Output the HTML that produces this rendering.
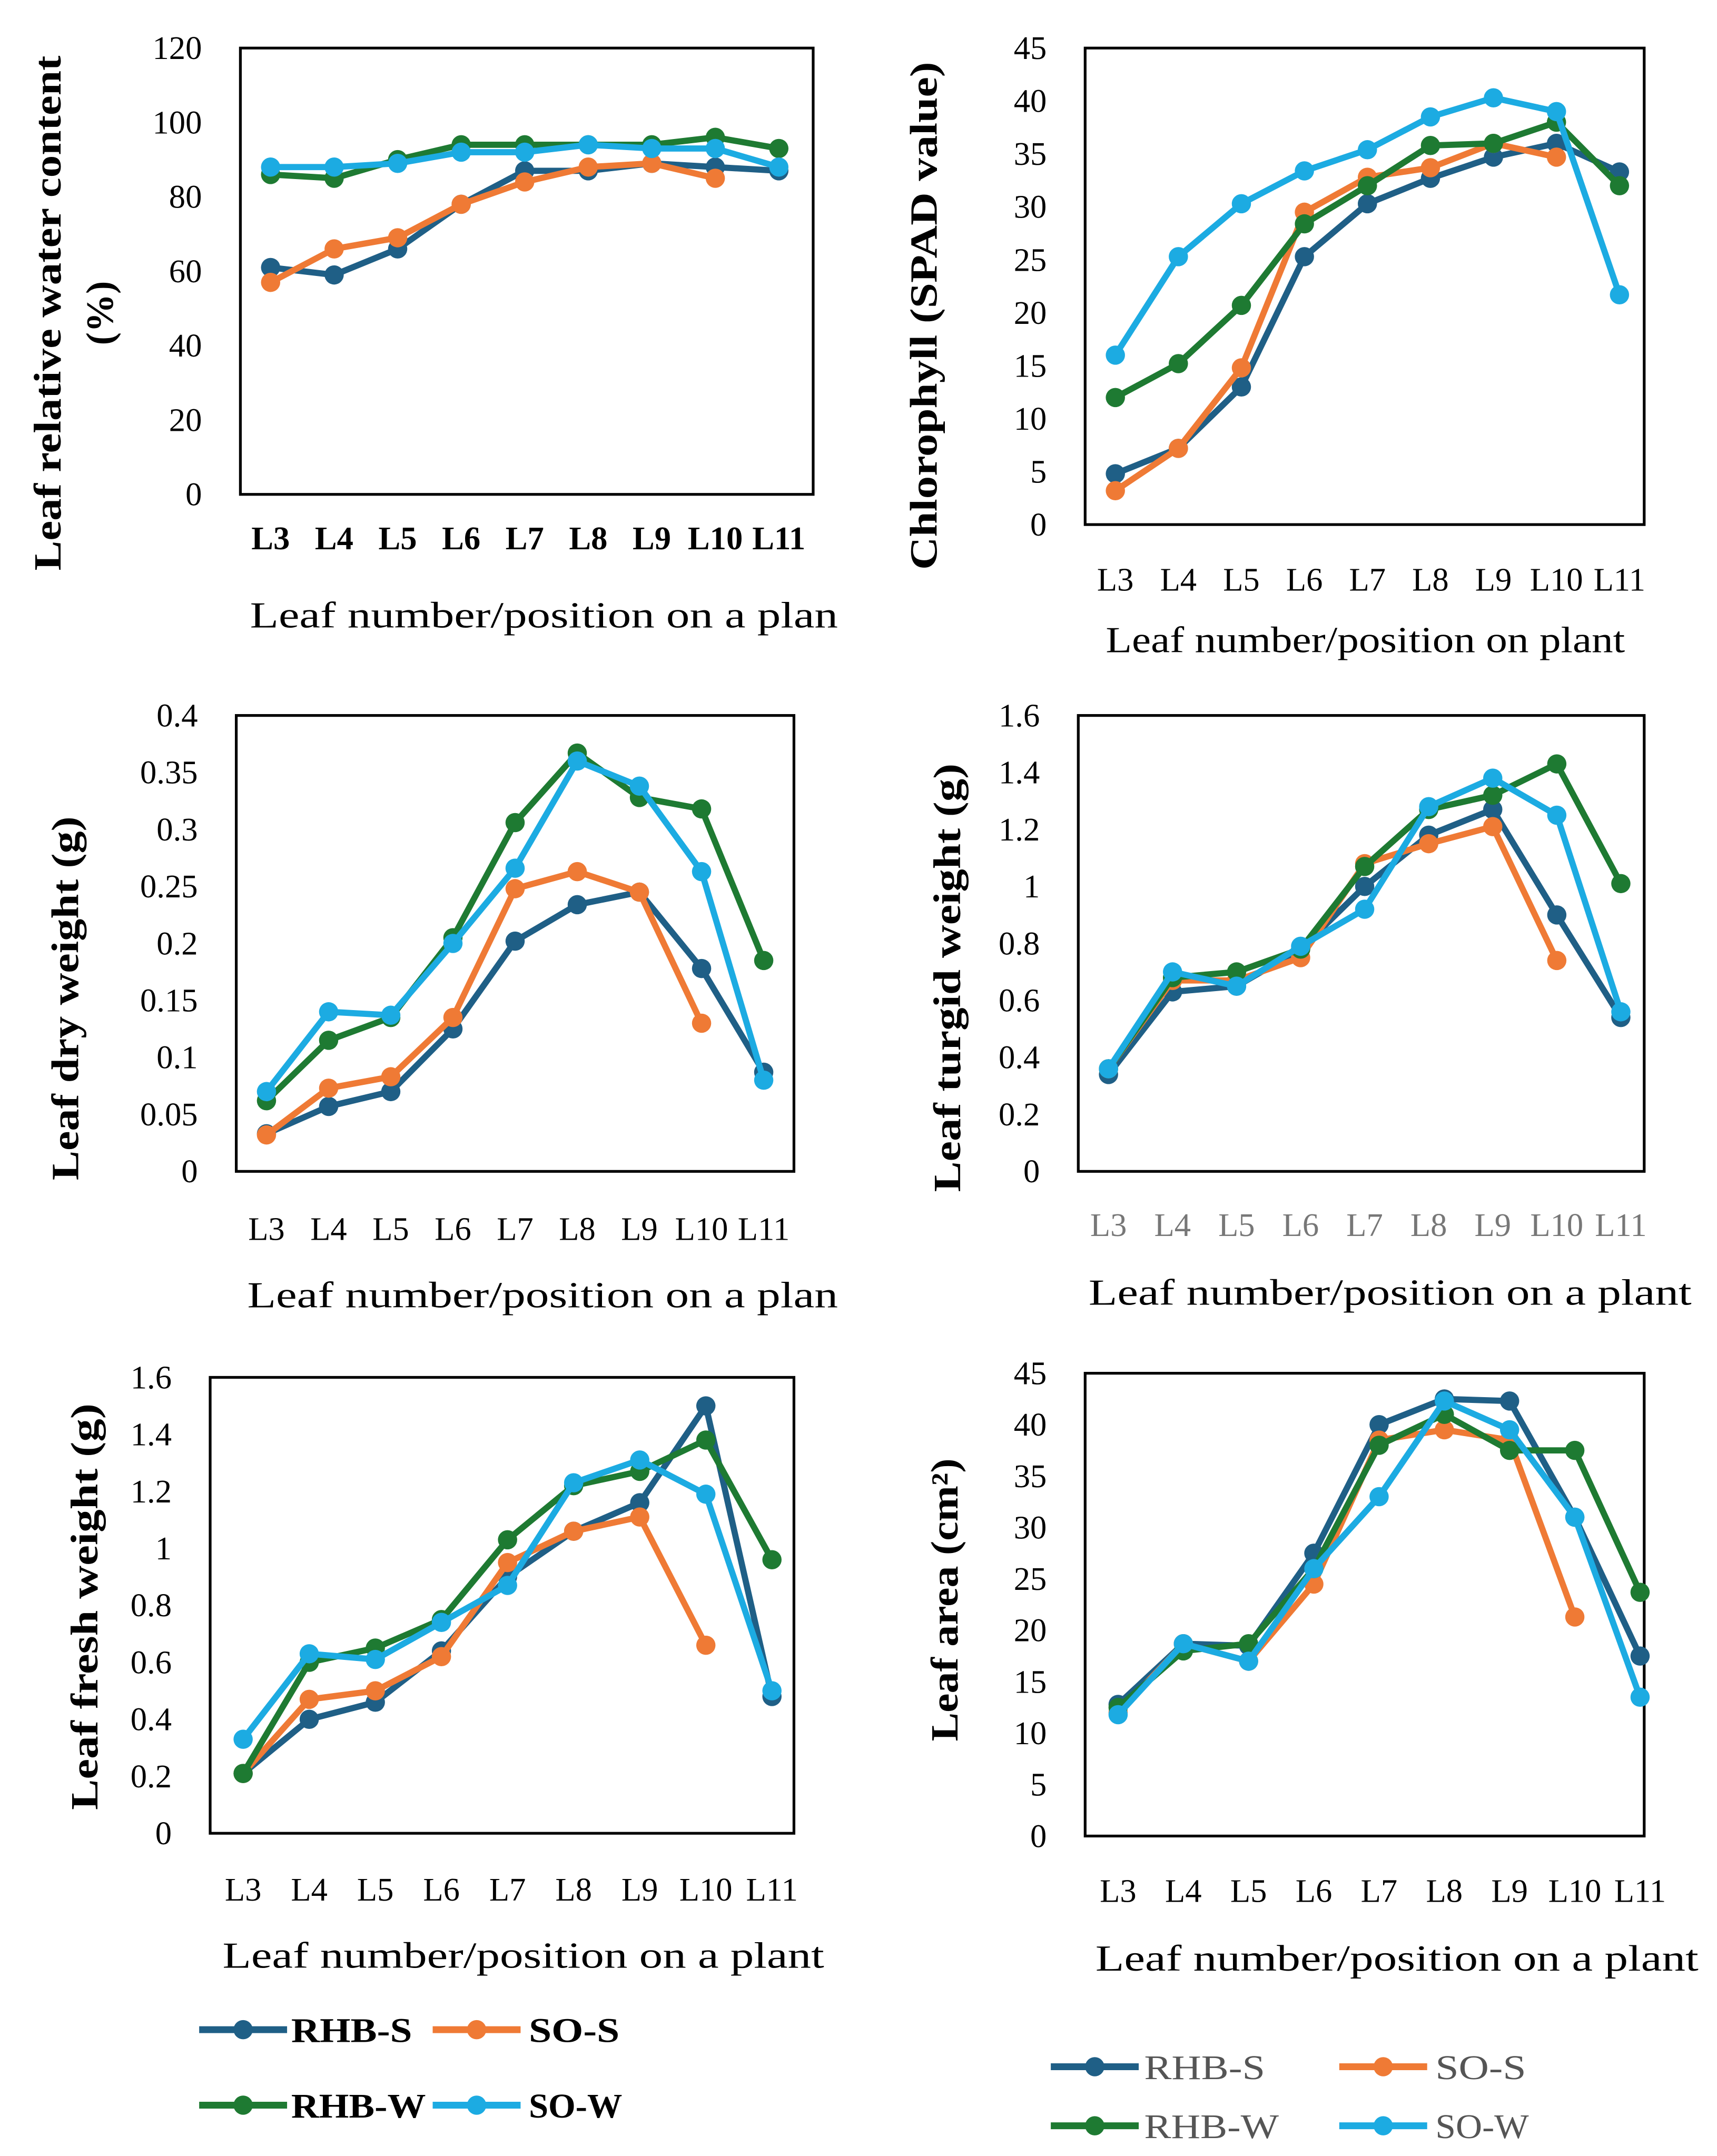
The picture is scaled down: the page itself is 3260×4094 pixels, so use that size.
<!DOCTYPE html>
<html><head><meta charset="utf-8">
<style>
html,body{margin:0;padding:0;background:#fff;}
svg{display:block;}
text{font-family:"Liberation Serif",serif;}
</style></head>
<body>
<svg id="chart" width="3260" height="4094" viewBox="0 0 1250 1570" preserveAspectRatio="none" xmlns="http://www.w3.org/2000/svg"></svg>
<script>
const categories = ["L3","L4","L5","L6","L7","L8","L9","L10","L11"];
const seriesNames = ["RHB-S","SO-S","RHB-W","SO-W"];
const seriesColors = ["#1f5f86","#ef7a35","#1e7a32","#1cabe2"];

const rwcRHBS = [61,59,66,78,87,87,89,88,87];
const rwcSOS  = [57,66,69,78,84,88,89,85,null];
const rwcRHBW = [86,85,90,94,94,94,94,96,93];
const rwcSOW  = [88,88,89,92,92,94,93,93,88];

const chlRHBS = [4.8,7.2,13,25.3,30.3,32.7,34.7,36,33.3];
const chlSOS  = [3.2,7.2,14.8,29.5,32.8,33.7,36,34.7,null];
const chlRHBW = [12,15.2,20.7,28.4,32,35.8,36,38,32];
const chlSOW  = [16,25.3,30.3,33.4,35.4,38.5,40.3,39,21.7];

const dryRHBS = [0.033,0.057,0.07,0.125,0.202,0.234,0.245,0.178,0.087];
const drySOS  = [0.032,0.073,0.083,0.135,0.248,0.263,0.245,0.13,null];
const dryRHBW = [0.062,0.115,0.135,0.205,0.306,0.367,0.328,0.318,0.185];
const drySOW  = [0.07,0.14,0.137,0.2,0.266,0.36,0.338,0.263,0.08];

const turRHBS = [0.34,0.63,0.65,0.78,1.0,1.18,1.27,0.9,0.54];
const turSOS  = [0.36,0.67,0.67,0.75,1.08,1.15,1.21,0.74,null];
const turRHBW = [0.36,0.68,0.7,0.78,1.07,1.27,1.32,1.43,1.01];
const turSOW  = [0.36,0.7,0.65,0.79,0.92,1.28,1.38,1.25,0.56];

const frRHBS = [0.21,0.4,0.46,0.64,0.9,1.06,1.16,1.5,0.48];
const frSOS  = [0.21,0.47,0.5,0.62,0.95,1.06,1.11,0.66,null];
const frRHBW = [0.21,0.6,0.65,0.75,1.03,1.22,1.27,1.38,0.96];
const frSOW  = [0.33,0.63,0.61,0.74,0.87,1.23,1.31,1.19,0.5];

const laRHBS = [12.8,18.7,18.5,27.5,40,42.5,42.3,31,17.5];
const laSOS  = [12,18.7,17,24.5,38.5,39.5,38.5,21.3,null];
const laRHBW = [12.5,18,18.7,26,38,41,37.5,37.5,23.7];
const laSOW  = [11.8,18.7,17,26,33,42.3,39.5,31,13.5];

const ticksRWC = [0,20,40,60,80,100,120];
const ticksChl = [0,5,10,15,20,25,30,35,40,45];
const ticksDry = ["0","0.05","0.1","0.15","0.2","0.25","0.3","0.35","0.4"];
const ticks16 = ["0","0.2","0.4","0.6","0.8","1","1.2","1.4","1.6"];
const ticksLA = [0,5,10,15,20,25,30,35,40,45];

const NS="http://www.w3.org/2000/svg";
const svg=document.getElementById('chart');
function mk(tag,attrs,parent){const e=document.createElementNS(NS,tag);for(const k in attrs)e.setAttribute(k,attrs[k]);(parent||svg).appendChild(e);return e;}

const panels=[
 {id:"rwc",x0:175,x1:592,y0:35,y1:360,xa:197,xb:567,max:120,ticks:ticksRWC,data:[rwcRHBS,rwcSOS,rwcRHBW,rwcSOW],
  labY:400,labBold:true,labColor:"#000",title:"Leaf number/position on a plan",titleX:396,titleY:457,titleLen:428,
  ytitle:["Leaf relative water content","(%)"],ytLen:[375,0],ytX:[44,82],ytY:228},
 {id:"chl",x0:790,x1:1197,y0:35,y1:382,xa:812,xb:1179,max:45,ticks:ticksChl,data:[chlRHBS,chlSOS,chlRHBW,chlSOW],
  labY:430,labBold:false,labColor:"#000",title:"Leaf number/position on  plant",titleX:994,titleY:475,titleLen:378,
  ytitle:["Chlorophyll (SPAD value)"],ytLen:[370],ytX:[682],ytY:230},
 {id:"dry",x0:172,x1:578,y0:521,y1:853,xa:194,xb:556,max:0.4,ticks:ticksDry,data:[dryRHBS,drySOS,dryRHBW,drySOW],
  labY:903,labBold:false,labColor:"#000",title:"Leaf number/position on a plan",titleX:395,titleY:952,titleLen:430,
  ytitle:["Leaf dry weight (g)"],ytLen:[265],ytX:[57],ytY:727},
 {id:"tur",x0:785,x1:1197,y0:521,y1:853,xa:807,xb:1180,max:1.6,ticks:ticks16,data:[turRHBS,turSOS,turRHBW,turSOW],
  labY:900,labBold:false,labColor:"#777",title:"Leaf number/position on a plant",titleX:1012,titleY:950,titleLen:439,
  ytitle:["Leaf turgid weight (g)"],ytLen:[312],ytX:[699],ytY:712},
 {id:"fresh",x0:153,x1:578,y0:1003,y1:1335,xa:177,xb:562,max:1.6,ticks:ticks16,data:[frRHBS,frSOS,frRHBW,frSOW],
  labY:1384,labBold:false,labColor:"#000",title:"Leaf number/position on a plant",titleX:381,titleY:1433,titleLen:438,
  ytitle:["Leaf fresh weight (g)"],ytLen:[296],ytX:[71],ytY:1170},
 {id:"area",x0:790,x1:1197,y0:1000,y1:1337,xa:814,xb:1194,max:45,ticks:ticksLA,data:[laRHBS,laSOS,laRHBW,laSOW],
  labY:1385,labBold:false,labColor:"#000",title:"Leaf number/position on a plant",titleX:1017,titleY:1435,titleLen:439,
  ytitle:["Leaf area (cm²)"],ytLen:[206],ytX:[697],ytY:1165}
];

panels.forEach(p=>{
  const g=mk('g',{});
  
  
  const xs=i=>p.xa+(p.xb-p.xa)*i/(categories.length-1);
  const ys=v=>p.y1-(p.y1-p.y0)*v/p.max;
  const box=mk('rect',{x:p.x0,y:p.y0,width:p.x1-p.x0,height:p.y1-p.y0,fill:"none",stroke:"#000","stroke-width":2},g);
  
  
  p.ticks.forEach(t=>{
    const tt=mk('text',{x:p.x0-28,y:ys(parseFloat(t))+8,"text-anchor":"end","font-size":24,fill:"#000"},g);
    tt.textContent=t;
    
    
  });
  categories.forEach((c,i)=>{
    const tt=mk('text',{x:xs(i),y:p.labY,"text-anchor":"middle","font-size":24,fill:p.labColor,"font-weight":p.labBold?"bold":"normal"},g);
    tt.textContent=c;
    
    
  });
  const xt=mk('text',{x:p.titleX,y:p.titleY,"text-anchor":"middle","font-size":27,fill:"#000",textLength:p.titleLen,lengthAdjust:"spacingAndGlyphs"},g);
  xt.textContent=p.title;
  
  
  p.ytitle.forEach((line,k)=>{
    const at={x:0,y:0,"text-anchor":"middle","font-size":28,"font-weight":"bold",fill:"#000",transform:`translate(${p.ytX[k]},${p.ytY}) rotate(-90)`};
    if(p.ytLen[k]){at.textLength=p.ytLen[k];at.lengthAdjust="spacingAndGlyphs";}
    const yt=mk('text',at,g);
    yt.textContent=line;
    
    
  });
  p.data.forEach((arr,si)=>{
    const pts=[];
    arr.forEach((v,i)=>{if(v!==null)pts.push([xs(i),ys(v)]);});
    const pl=mk('polyline',{points:pts.map(q=>q.join(',')).join(' '),fill:"none",stroke:seriesColors[si],"stroke-width":4.5,"stroke-linejoin":"round"},g);
    
    
    pts.forEach(q=>{
      const c=mk('circle',{cx:q[0],cy:q[1],r:7,fill:seriesColors[si]},g);
      
      
    });
  });
});

const legends=[
 {id:"legend-left",bold:true,color:"#000",items:[[145,1478],[315,1478],[145,1533],[315,1533]],tx:[212,385,212,385],len:[88,66,98,68]},
 {id:"legend-right",bold:false,color:"#555",items:[[765,1505],[975,1505],[765,1548],[975,1548]],tx:[833,1045,833,1045],len:[88,66,98,68]}
];
legends.forEach(L=>{
  const g=mk('g',{});
  
  
  L.items.forEach((it,si)=>{
    const e=mk('g',{},g);
    
    
    mk('line',{x1:it[0],y1:it[1],x2:it[0]+64,y2:it[1],stroke:seriesColors[si],"stroke-width":5},e);
    mk('circle',{cx:it[0]+32,cy:it[1],r:7,fill:seriesColors[si]},e);
    const t=mk('text',{x:L.tx[si],y:it[1]+9,"font-size":25,"font-weight":L.bold?"bold":"normal",fill:L.color,textLength:L.len[si],lengthAdjust:"spacingAndGlyphs"},e);
    t.textContent=seriesNames[si];
  });
});
</script>
</body></html>
